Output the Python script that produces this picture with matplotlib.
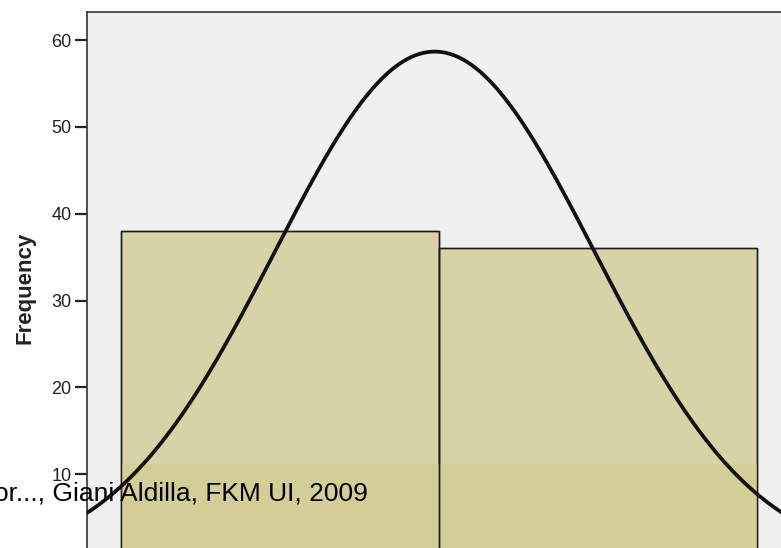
import numpy as np
import matplotlib
matplotlib.use("Agg")
import matplotlib.pyplot as plt

# Data
bin_centers = [1, 2]
counts = [38, 36]
ytick_vals = [10, 20, 30, 40, 50, 60]
footer = "or..., Giani Aldilla, FKM UI, 2009"

plt.rcParams['font.family'] = ['Liberation Sans', 'DejaVu Sans']

W, H = 781, 548
fig = plt.figure(figsize=(W/100, H/100), dpi=100)
fig.patch.set_facecolor('white')

# axes extends beyond figure bottom/right (cropped look)
left_px, top_px, bot_px, right_px = 87, 12, 561, 791
ax = fig.add_axes([left_px/W, (H-bot_px)/H, (right_px-left_px)/W, (bot_px-top_px)/H])
ax.set_facecolor('#f0f0f0')

# bars (two-tone as in reference)
band = 11.15
ax.bar(bin_centers, counts, width=1.0, color='#d8d3a6', edgecolor='#1a1a1a', linewidth=1.0, zorder=2)
ax.bar(bin_centers, [min(c, band) for c in counts], width=1.0, color='#d3ce97', edgecolor='none', linewidth=0, zorder=2.1)
ax.bar(bin_centers, counts, width=1.0, color='none', edgecolor='#1a1a1a', linewidth=1.0, zorder=2.2)

# normal curve fitted to the histogram
vals = np.repeat(bin_centers, counts)
mu = vals.mean()
sd = vals.std(ddof=1)
n = len(vals)
xs = np.linspace(0.3, 2.7, 400)
ys = n * 1.0 / (sd * np.sqrt(2*np.pi)) * np.exp(-0.5*((xs-mu)/sd)**2)
ax.plot(xs, ys, color='#111111', lw=2.7, zorder=3, solid_capstyle='round')

ax.set_xlim(0.5 - 34/318, 2.5 + 34/318)
ax.set_ylim(0, 60 + 28/8.68)

ax.set_yticks(ytick_vals)
ax.set_yticklabels([str(v) for v in ytick_vals], fontsize=13, color='#222222')
ax.tick_params(axis='y', direction='out', length=9, width=1.6, color='#222222', pad=2)
ax.set_xticks([])
for s in ['right', 'bottom']:
    ax.spines[s].set_visible(False)
for s in ['left', 'top']:
    ax.spines[s].set_color('#333333')
    ax.spines[s].set_linewidth(1.2)

fig.text(25/W, 1-288/H, 'Frequency', rotation=90, fontsize=16, fontweight='bold',
         ha='center', va='center', color='#222222')

fig.text(368/W, 1-501/H, footer, fontsize=19, ha='right', va='baseline', color='black', zorder=10)

fig.savefig('out.png', dpi=100)
